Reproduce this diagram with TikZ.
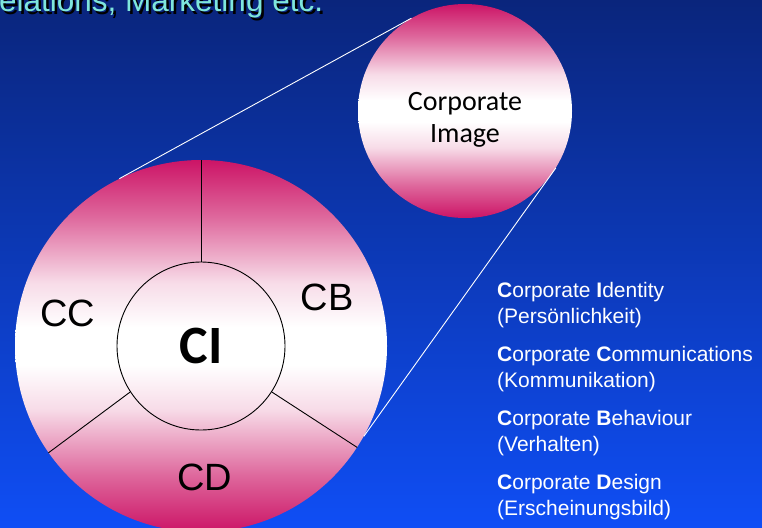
\documentclass[tikz,border=0pt]{standalone}
\usepackage{fontspec}
\setmainfont{Liberation Sans}
\newfontfamily\calibri{Carlito}
\definecolor{ringpink}{HTML}{CC1466}
\colorlet{ringmid}{ringpink!65!white}
\colorlet{ringlight}{ringpink!40!white}
\colorlet{ringpale}{ringpink!15!white}
\definecolor{bgtop}{HTML}{0A257C}
\definecolor{bgbottom}{HTML}{0F4EF5}
\definecolor{titlecyan}{HTML}{7FE6DC}
\pgfdeclareverticalshading{ringshade}{100bp}{color(0bp)=(ringpink); color(25bp)=(ringpink); color(32.5bp)=(ringmid); color(37bp)=(ringlight); color(41.5bp)=(ringpale); color(47.5bp)=(white); color(52.5bp)=(white); color(58.5bp)=(ringpale); color(63bp)=(ringlight); color(67.5bp)=(ringmid); color(75bp)=(ringpink); color(100bp)=(ringpink)}
\begin{document}
\begin{tikzpicture}[x=1pt, y=-1pt,
        ring/.style={circle, shading=ringshade, inner sep=0pt},
        part/.style={inner sep=0pt, font=\fontsize{38}{40}\selectfont},
        legend/.style={anchor=base west, inner sep=0pt, text=white, font=\fontsize{21}{24}\selectfont},
        title/.style={anchor=base west, inner sep=0pt, font=\fontsize{31.5}{34}\selectfont}]
        \useasboundingbox (0,0) rectangle (762,527);
        \clip (0,0) rectangle (762,527);
        \fill[top color=bgtop, bottom color=bgbottom] (0,0) rectangle (762,527);

        % title line, cut at the top
        \node[title, text=black] (titleshadow) at (1.5,14.5) {elations, Marketing etc.};
        \node[title, text=titlecyan] (titletext) at (-1,12) {elations, Marketing etc.};

        % big ring
        \node[ring, minimum size=372pt] (outer) at (201,346) {};
        \node[circle, draw, line width=0.9pt, minimum size=168pt, inner sep=0pt, font=\calibri\bfseries\fontsize{54}{56}\selectfont] (core) at (201,346) {CI};
        \draw[line width=0.9pt] (core.90) -- (outer.90);
        \draw[line width=0.9pt] (core.213) -- (outer.215);
        \draw[line width=0.9pt] (core.327) -- (outer.327);
        \node[part] (cc) at (68,313) {CC};
        \node[part] (cb) at (327,297) {CB};
        \node[part] (cd) at (204.5,477) {CD};

        % small ring
        \node[ring, minimum size=214pt] (image) at (465,111) {};
        \node[align=center, inner sep=0pt, font=\calibri\fontsize{28}{32}\selectfont] (imagetext) at (465,120) {Corporate\\Image};
        \draw[white, line width=0.9pt] (outer.116) -- (image.120);
        \draw[white, line width=0.9pt] (outer.331) -- (image.328);

        % legend
        \node[legend] (ci) at (497,297) {\textbf{C}orporate \textbf{I}dentity};
        \node[legend] (cisub) at (497,323) {(Persönlichkeit)};
        \node[legend] (cco) at (497,361) {\textbf{C}orporate \textbf{C}ommunications};
        \node[legend] (ccosub) at (497,387) {(Kommunikation)};
        \node[legend] (cbe) at (497,425) {\textbf{C}orporate \textbf{B}ehaviour};
        \node[legend] (cbesub) at (497,451) {(Verhalten)};
        \node[legend] (cde) at (497,489) {\textbf{C}orporate \textbf{D}esign};
        \node[legend] (cdesub) at (497,515) {(Erscheinungsbild)};
\end{tikzpicture}
\end{document}
